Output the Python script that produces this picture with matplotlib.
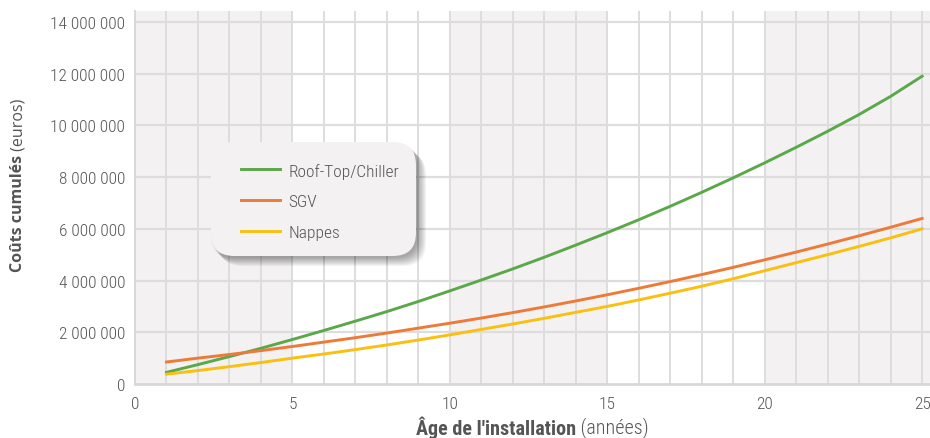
import matplotlib
matplotlib.use("Agg")
import matplotlib.pyplot as plt
from matplotlib.patches import FancyBboxPatch
from matplotlib import font_manager

years = list(range(1, 26))
roof_top = [0.45, 0.75, 1.06, 1.38, 1.72, 2.07, 2.43, 2.80, 3.19, 3.60, 4.02, 4.45, 4.90,
            5.37, 5.85, 6.35, 6.87, 7.41, 7.97, 8.55, 9.15, 9.77, 10.42, 11.12, 11.90]
sgv = [0.85, 1.00, 1.14, 1.29, 1.45, 1.62, 1.79, 1.97, 2.16, 2.35, 2.55, 2.76, 2.98,
       3.21, 3.45, 3.70, 3.96, 4.23, 4.51, 4.80, 5.10, 5.41, 5.73, 6.06, 6.40]
nappes = [0.38, 0.52, 0.67, 0.83, 1.00, 1.16, 1.33, 1.51, 1.70, 1.90, 2.11, 2.32, 2.54,
          2.77, 3.00, 3.25, 3.51, 3.78, 4.07, 4.38, 4.69, 5.00, 5.32, 5.65, 6.00]
series_names = ["Roof-Top/Chiller", "SGV", "Nappes"]
series_colors = ["#5aa84a", "#ee7a37", "#fbbf10"]
y_ticks = [0, 2, 4, 6, 8, 10, 12, 14]
y_tick_labels = ["0", "2 000 000", "4 000 000", "6 000 000", "8 000 000",
                 "10 000 000", "12 000 000", "14 000 000"]
x_ticks = [0, 5, 10, 15, 20, 25]
bands = [(0, 5), (10, 15), (20, 26)]

avail = {f.name for f in font_manager.fontManager.ttflist}
cond = "DejaVu Sans"
for cand in ["Roboto Condensed", "Liberation Sans Narrow", "DejaVu Sans"]:
    if cand in avail:
        cond = cand
        break

txt_col = "#555555"
fig = plt.figure(figsize=(9.3, 4.39), dpi=100)
ax = fig.add_axes([135 / 930, 54 / 439, 795 / 930, 373 / 439])
ax.set_xlim(0, 25.25)
ax.set_ylim(0, 14.42)

for a, b in bands:
    ax.axvspan(a, b, color="#f3f1f2", zorder=0, lw=0)

for xv in range(1, 26):
    ax.axvline(xv, color="#dedddd", lw=1.4, zorder=1)
for yv in y_ticks[1:]:
    ax.axhline(yv, color="#dedddd", lw=1.6, zorder=1)

lines = []
for vals, name, col in zip([roof_top, sgv, nappes], series_names, series_colors):
    ln, = ax.plot(years, vals, color=col, lw=2.1, label=name, zorder=3)
    lines.append(ln)

for s in ["top", "right"]:
    ax.spines[s].set_visible(False)
ax.spines["left"].set_color("#d8d8d8")
ax.spines["left"].set_linewidth(1.4)
ax.spines["bottom"].set_color("#d8d8d8")
ax.spines["bottom"].set_linewidth(2.0)

ax.set_yticks(y_ticks)
ax.set_yticklabels(y_tick_labels)
ax.set_xticks(x_ticks)
ax.set_xticklabels([str(v) for v in x_ticks])
ax.tick_params(axis="y", length=0, pad=7, labelsize=12.5, labelcolor=txt_col)
ax.tick_params(axis="x", length=0, pad=9, labelsize=12.5, labelcolor=txt_col)
for lab in ax.get_yticklabels() + ax.get_xticklabels():
    lab.set_family(cond)
    lab.set_fontweight("light")

# legend box with soft shadow
bx, by, bw, bh = 211, 143, 205, 114
def to_fig(x, y, w, h):
    return x / 930, 1 - (y + h) / 439, w / 930, h / 439
for i in range(10):
    off = 2 + i * 0.9
    x0, y0, w0, h0 = to_fig(bx + off - 2, by + off, bw + 2, bh)
    sh = FancyBboxPatch((x0, y0), w0, h0, boxstyle="round,pad=0,rounding_size=0.025",
                        transform=fig.transFigure, facecolor="#000000", edgecolor="none",
                        alpha=0.04, zorder=5, mutation_aspect=930 / 439)
    fig.add_artist(sh)
x0, y0, w0, h0 = to_fig(bx, by, bw, bh)
box = FancyBboxPatch((x0, y0), w0, h0, boxstyle="round,pad=0,rounding_size=0.025",
                     transform=fig.transFigure, facecolor="#f3f1f2", edgecolor="none", zorder=6,
                     mutation_aspect=930 / 439)
fig.add_artist(box)
leg = fig.legend(handles=lines, labels=series_names, loc="upper left",
                 bbox_to_anchor=(225 / 930, 1 - 148 / 439), frameon=False,
                 handlelength=2.25, handletextpad=0.5, labelspacing=0.9,
                 prop={"family": cond, "size": 12.5, "weight": "light"})
leg.set_zorder(7)
for t in leg.get_texts():
    t.set_color(txt_col)

# axis labels with mixed weights
fig.canvas.draw()
r = fig.canvas.get_renderer()
xb = fig.text(0, 0, "Âge de l'installation", fontsize=14.5, fontweight="bold",
              color=txt_col, family=cond, va="center", ha="left")
xr = fig.text(0, 0, " (années)", fontsize=14.5, color=txt_col, family=cond,
              fontweight="light", va="center", ha="left")
wb = xb.get_window_extent(r).width
wr = xr.get_window_extent(r).width
startx = 532 - (wb + wr) / 2
xb.set_position((startx / 930, 1 - 428 / 439))
xr.set_position(((startx + wb) / 930, 1 - 428 / 439))

yb = fig.text(0, 0, "Coûts cumulés", fontsize=11.5, fontweight="bold", color=txt_col,
              family="Open Sans", rotation=90, va="bottom", ha="left",
              rotation_mode="anchor")
yr = fig.text(0, 0, " (euros)", fontsize=11.5, color=txt_col, family="Open Sans",
              rotation=90, va="bottom", ha="left", rotation_mode="anchor")
hb = yb.get_window_extent(r).height
hr = yr.get_window_extent(r).height
starty = 185 + (hb + hr) / 2
yb.set_position((26 / 930, 1 - starty / 439))
yr.set_position((26 / 930, 1 - (starty - hb) / 439))

fig.savefig("out.png", dpi=100, facecolor="white")
